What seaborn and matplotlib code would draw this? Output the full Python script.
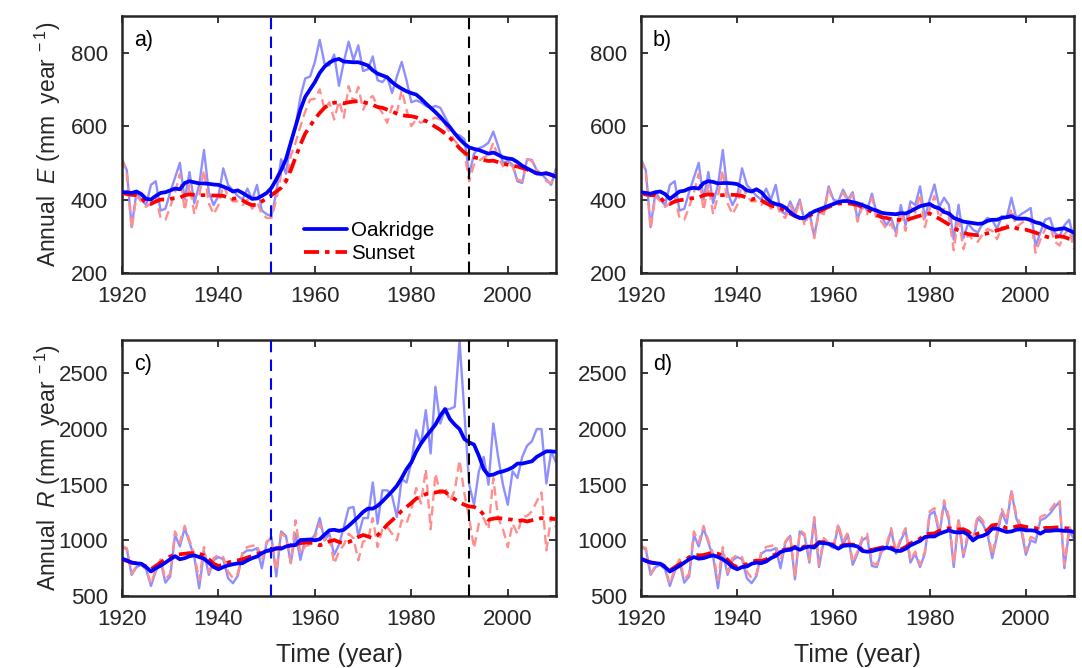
import matplotlib
matplotlib.use("Agg")
import matplotlib.pyplot as plt
import seaborn as sns
import pandas as pd
from matplotlib.lines import Line2D

YEARS = list(range(1920, 2011))

# ---------- Evapotranspiration (E), mm/year ----------
E_OAK_EARLY = [510,480,325,420,400,385,440,450,370,375,420,460,500,400,475,390,440,535,420,385,
               410,485,440,425,410,400,430,400,440,370,360]
E_SUN_EARLY = [510,470,320,410,395,380,390,410,350,345,380,420,470,370,440,360,410,480,390,360,
               385,440,410,395,395,385,400,375,395,360,350]
E_OAK_A_LATE = [355,420,510,470,560,600,680,730,735,775, 835,770,765,795,710,775,830,780,820,750,
                755,790,725,720,735,690,735,775,725,665, 670,665,655,650,655,650,625,600,578,575,
                565,468,525,540,545,555,585,545,500,505, 495,450,445,510,508,480,470,455,440,485]
E_SUN_A_LATE = [350,400,470,445,520,555,600,640,672,675, 700,645,665,618,668,623,709,665,707,645,
                673,682,655,636,609,655,636,698,645,600, 618,609,616,618,623,618,605,582,560,545,
                527,450,495,505,515,520,555,515,491,500, 490,455,450,510,505,480,465,450,445,470]
E_OAK_B_LATE = [395,365,400,340,365,300,370,365,436,400, 395,427,400,420,345,390,370,416,360,355,
                330,350,309,385,330,395,385,436,350,400, 441,380,405,385,291,386,295,335,318,310,
                335,350,345,320,355,350,405,350,360,368, 377,273,310,345,350,309,300,330,345,290]
E_SUN_B_LATE = [385,355,395,330,360,295,365,360,430,395, 390,420,395,415,340,380,360,405,345,340,
                320,335,300,370,315,380,365,415,325,375, 410,350,375,355,262,355,265,305,290,285,
                305,320,315,292,325,325,375,325,335,345, 350,255,290,320,330,285,275,305,320,265]

E_OAK_A_SMOOTH = [420,420,418,422,415,402,400,410,418,420, 425,430,428,445,450,447,444,444,443,441,
                  440,435,430,422,425,418,410,402,403,410, 418,432,455,480,510,555,600,645,680,700,
                  720,745,762,773,780,783,776,775,774,774, 770,765,752,743,738,733,720,710,702,695,
                  690,686,675,662,650,638,625,610,597,580, 565,552,542,538,535,530,525,528,522,515,
                  512,510,502,492,485,478,471,470,472,468,462]
E_SUN_A_SMOOTH = [418,415,413,412,405,390,388,395,400,400, 402,404,405,412,414,413,412,412,412,411,
                  411,410,406,402,404,398,390,385,386,395, 403,412,422,432,450,480,515,550,580,600,
                  620,636,650,660,664,664,662,665,667,668, 666,662,658,652,650,645,640,634,630,628,
                  627,624,618,614,607,598,590,580,568,555, 540,528,520,515,512,508,505,506,502,498,
                  495,492,490,486,482,476,472,470,471,467,462]
E_OAK_B_SMOOTH = [420,418,416,420,422,415,402,412,422,424, 430,432,430,445,450,448,444,445,445,444,
                  442,435,425,422,428,420,405,393,388,385, 378,366,356,350,350,360,368,373,378,383,
                  388,393,396,396,393,390,385,380,374,370, 364,362,361,360,363,362,368,375,382,385,
                  388,380,376,366,362,350,345,340,338,336, 334,335,342,345,345,350,352,355,348,348,
                  348,344,338,335,328,322,318,320,322,316,310]
E_SUN_B_SMOOTH = [418,414,412,412,405,392,388,395,398,400, 403,404,405,412,414,413,412,412,413,413,
                  412,410,405,400,404,398,390,384,380,376, 370,362,355,350,348,356,363,368,374,380,
                  385,389,390,390,388,385,380,374,366,358, 352,350,347,344,345,343,348,352,356,360,
                  362,354,348,340,332,322,316,310,306,304, 303,305,308,312,316,320,324,328,322,318,
                  318,314,310,305,300,296,298,300,298,293,290]

# ---------- Runoff (R), mm/year ----------
R_OAK_EARLY = [940,920,690,760,780,740,590,720,810,620,675,1050,945,1110,980,850,570,900,690,820,
               850,830,660,615,680,880,910,910,930,750,980]
R_SUN_EARLY = [950,930,700,770,790,750,610,740,830,650,700,1080,980,1130,1000,880,640,940,710,840,
               870,850,720,660,700,900,940,950,960,820,990]
R_OAK_C_LATE = [1030,675,1080,1040,795,1060,825,1010,1000,1050, 1200,1000,1060,870,960,1120,1290,1300,1040,1200,
                1200,1520,1150,1450,1450,1400,1210,1550,1520,1700, 1990,1860,2170,1780,2380,2050,2180,2180,2200,2790,
                2150,1500,1320,1620,1750,1500,2050,1750,1500,1320, 1620,1560,1750,1850,1890,2000,2000,1510,1800,1700]
R_SUN_C_LATE = [1010,730,1060,1030,800,1180,880,950,960,1020, 1150,1000,1040,790,900,960,1060,1020,820,990,
                1000,1200,940,1100,1120,1060,1000,1180,1150,1280, 1470,1330,1640,1100,1600,1420,1480,1350,1450,1720,
                1420,1200,930,1150,1200,1100,1560,1200,1100,940, 1150,1060,1210,1220,1260,1350,1430,910,1210,1120]
R_OAK_D_LATE = [1040,650,1080,1040,800,1200,760,1000,960,930, 1130,960,1050,780,880,1000,1030,770,760,900,
                930,1090,880,1000,1090,800,880,760,880,1230, 1260,1050,1330,1180,760,1180,850,1040,990,1200,
                1150,1060,840,1040,1250,1150,1440,1200,1100,870, 1000,980,1180,1200,1240,1300,1345,750,1090,1010]
R_SUN_D_LATE = [1050,670,1090,1060,820,1210,780,1020,980,950, 1150,990,1070,800,900,1030,1060,800,780,920,
                960,1110,900,1020,1110,820,900,780,900,1260, 1290,1080,1360,1210,790,1200,880,1070,1020,1230,
                1180,1090,870,1070,1280,1180,1450,1230,1130,900, 1030,1010,1210,1230,1270,1330,1360,780,1120,1040]

R_OAK_C_SMOOTH = [835,820,800,793,790,760,720,750,772,800, 830,858,830,840,858,865,850,835,800,760,
                  740,760,775,785,793,795,820,840,855,885, 905,912,930,925,945,955,958,1003,1005,1008,
                  1000,1010,1050,1090,1095,1085,1095,1130,1170,1210, 1255,1285,1285,1310,1350,1395,1440,1490,1560,1640,
                  1700,1795,1870,1930,1985,2040,2120,2180,2090,2040, 2000,1910,1880,1860,1760,1640,1585,1590,1610,1620,
                  1635,1655,1690,1690,1700,1710,1750,1775,1800,1800,1795]
R_SUN_C_SMOOTH = [830,815,800,795,785,765,740,770,800,830, 855,870,875,880,885,885,880,865,830,790,
                  770,780,800,815,820,830,845,860,875,895, 905,915,925,935,943,955,965,975,980,978,
                  975,955,970,990,1003,985,975,985,1005,1030, 1048,1035,1020,1045,1090,1140,1180,1220,1265,1300,
                  1335,1375,1395,1415,1425,1430,1440,1435,1400,1370, 1340,1320,1305,1300,1280,1230,1185,1195,1200,1195,
                  1190,1185,1175,1180,1170,1180,1190,1200,1195,1195,1190]
R_OAK_D_SMOOTH = [835,815,800,795,790,760,720,745,770,800, 830,850,835,840,855,865,850,830,800,760,
                  740,760,765,790,800,795,810,840,860,895, 910,915,935,915,935,945,935,978,975,970,
                  950,925,950,955,955,945,905,898,903,915, 925,935,925,905,905,925,955,975,995,1030,
                  1035,1035,1060,1075,1090,1075,1070,1075,1050,1000, 1030,1040,1060,1105,1105,1090,1075,1080,1095,1100,
                  1090,1090,1085,1060,1085,1085,1090,1090,1085,1085,1075]
R_SUN_D_SMOOTH = [835,818,802,797,792,765,730,758,785,815, 848,870,865,868,880,890,880,860,825,780,
                  760,775,785,808,818,815,828,855,875,905, 918,922,942,925,945,955,945,985,983,978,
                  958,935,958,962,962,955,915,910,915,925, 935,945,935,918,918,940,972,992,1015,1052,
                  1060,1062,1085,1100,1110,1100,1098,1100,1080,1035, 1060,1070,1090,1135,1140,1130,1110,1112,1125,1130,
                  1120,1118,1110,1090,1112,1112,1115,1118,1110,1105,1095]

PANELS = [
    dict(tag="a)", var="E", oak=E_OAK_EARLY + E_OAK_A_LATE, sun=E_SUN_EARLY + E_SUN_A_LATE,
         oak_s=E_OAK_A_SMOOTH, sun_s=E_SUN_A_SMOOTH, vlines=True),
    dict(tag="b)", var="E", oak=E_OAK_EARLY + E_OAK_B_LATE, sun=E_SUN_EARLY + E_SUN_B_LATE,
         oak_s=E_OAK_B_SMOOTH, sun_s=E_SUN_B_SMOOTH, vlines=False),
    dict(tag="c)", var="R", oak=R_OAK_EARLY + R_OAK_C_LATE, sun=R_SUN_EARLY + R_SUN_C_LATE,
         oak_s=R_OAK_C_SMOOTH, sun_s=R_SUN_C_SMOOTH, vlines=True),
    dict(tag="d)", var="R", oak=R_OAK_EARLY + R_OAK_D_LATE, sun=R_SUN_EARLY + R_SUN_D_LATE,
         oak_s=R_OAK_D_SMOOTH, sun_s=R_SUN_D_SMOOTH, vlines=False),
]
for p in PANELS:
    for k in ("oak", "sun", "oak_s", "sun_s"):
        assert len(p[k]) == len(YEARS), (p["tag"], k, len(p[k]))

VLINE_BLUE = 1951
VLINE_BLACK = 1992
X_TICKS = [1920, 1940, 1960, 1980, 2000]
Y_TICKS = {"E": [200, 400, 600, 800], "R": [500, 1000, 1500, 2000, 2500]}
Y_LIM = {"E": (200, 900), "R": (500, 2800)}
Y_LABEL = {"E": r"Annual  $\mathit{E}$ (mm  year$^{\ -1}$)",
           "R": r"Annual  $\mathit{R}$ (mm  year$^{\ -1}$)"}

sns.set_theme(style="ticks")
plt.rcParams["font.family"] = ["Liberation Sans", "DejaVu Sans"]
plt.rcParams["mathtext.fontset"] = "custom"
plt.rcParams["mathtext.rm"] = "Liberation Sans"
plt.rcParams["mathtext.it"] = "Liberation Sans:italic"
plt.rcParams["mathtext.bf"] = "Liberation Sans:bold"

TXT = "#262626"
FS_TICK = 16
FS_YLAB = 16.5
FS_XLAB = 18
FS_LEG = 14.8
FS_TAG = 15.5

fig = plt.figure(figsize=(10.82, 6.68), dpi=100)
W, H = 1082, 668
boxes = [(122, 16, 556, 273), (641, 16, 1074, 273), (122, 340, 556, 596), (641, 340, 1074, 596)]

SUN_SMOOTH_LS = (0, (4, 1.6, 1.2, 1.6))

for p, (x0, y0, x1, y1) in zip(PANELS, boxes):
    ax = fig.add_axes([x0 / W, 1 - y1 / H, (x1 - x0) / W, (y1 - y0) / H])
    df = pd.DataFrame({"year": YEARS, "oak": p["oak"], "sun": p["sun"],
                       "oak_s": p["oak_s"], "sun_s": p["sun_s"]})
    sns.lineplot(data=df, x="year", y="oak", ax=ax, color=(0.56, 0.56, 1.0), lw=1.7, zorder=2)
    sns.lineplot(data=df, x="year", y="sun", ax=ax, color=(1.0, 0.56, 0.56), lw=1.7,
                 linestyle=(0, (4, 2.2)), zorder=2)
    sns.lineplot(data=df, x="year", y="oak_s", ax=ax, color="#0000ff", lw=2.7, zorder=4)
    sns.lineplot(data=df, x="year", y="sun_s", ax=ax, color="#ff0000", lw=2.7,
                 linestyle=SUN_SMOOTH_LS, zorder=3)
    if p["vlines"]:
        ax.axvline(VLINE_BLUE, color="#0000ff", lw=1.5, linestyle=(0, (5.5, 3.5)), zorder=5)
        ax.axvline(VLINE_BLACK, color="black", lw=1.5, linestyle=(0, (5.5, 3.5)), zorder=5)

    ax.set_xlim(1920, 2010)
    ax.set_ylim(*Y_LIM[p["var"]])
    ax.set_xticks(X_TICKS)
    ax.set_yticks(Y_TICKS[p["var"]])
    ax.tick_params(axis="both", direction="in", length=5, width=1.3, colors=TXT,
                   labelsize=FS_TICK, top=True, right=True)
    ax.tick_params(axis="y", pad=10)
    ax.tick_params(axis="x", pad=9.5)
    for s in ax.spines.values():
        s.set_visible(True)
        s.set_linewidth(1.8)
        s.set_color(TXT)
    if p["tag"] in ("c)", "d)"):
        ax.set_xlabel("Time (year)", fontsize=FS_XLAB, color=TXT, labelpad=9)
    else:
        ax.set_xlabel("")
    if p["tag"] in ("a)", "c)"):
        ax.set_ylabel(Y_LABEL[p["var"]], fontsize=FS_YLAB, color=TXT)
        ax.yaxis.set_label_coords(-0.136, 0.5)
    else:
        ax.set_ylabel("")
    ax.text(0.027, 0.945, p["tag"], transform=ax.transAxes, fontsize=FS_TAG, color="black",
            ha="left", va="top")
    if p["tag"] == "a)":
        handles = [Line2D([], [], color="#0000ff", lw=2.7),
                   Line2D([], [], color="#ff0000", lw=2.7, linestyle=SUN_SMOOTH_LS)]
        ax.legend(handles, ["Oakridge", "Sunset"], loc="lower left", bbox_to_anchor=(0.419, 0.037),
                  frameon=False, fontsize=FS_LEG, handlelength=2.1, handletextpad=0.2,
                  labelspacing=0.22, borderpad=0, borderaxespad=0, labelcolor="black")

fig.savefig("out.png", dpi=100)
